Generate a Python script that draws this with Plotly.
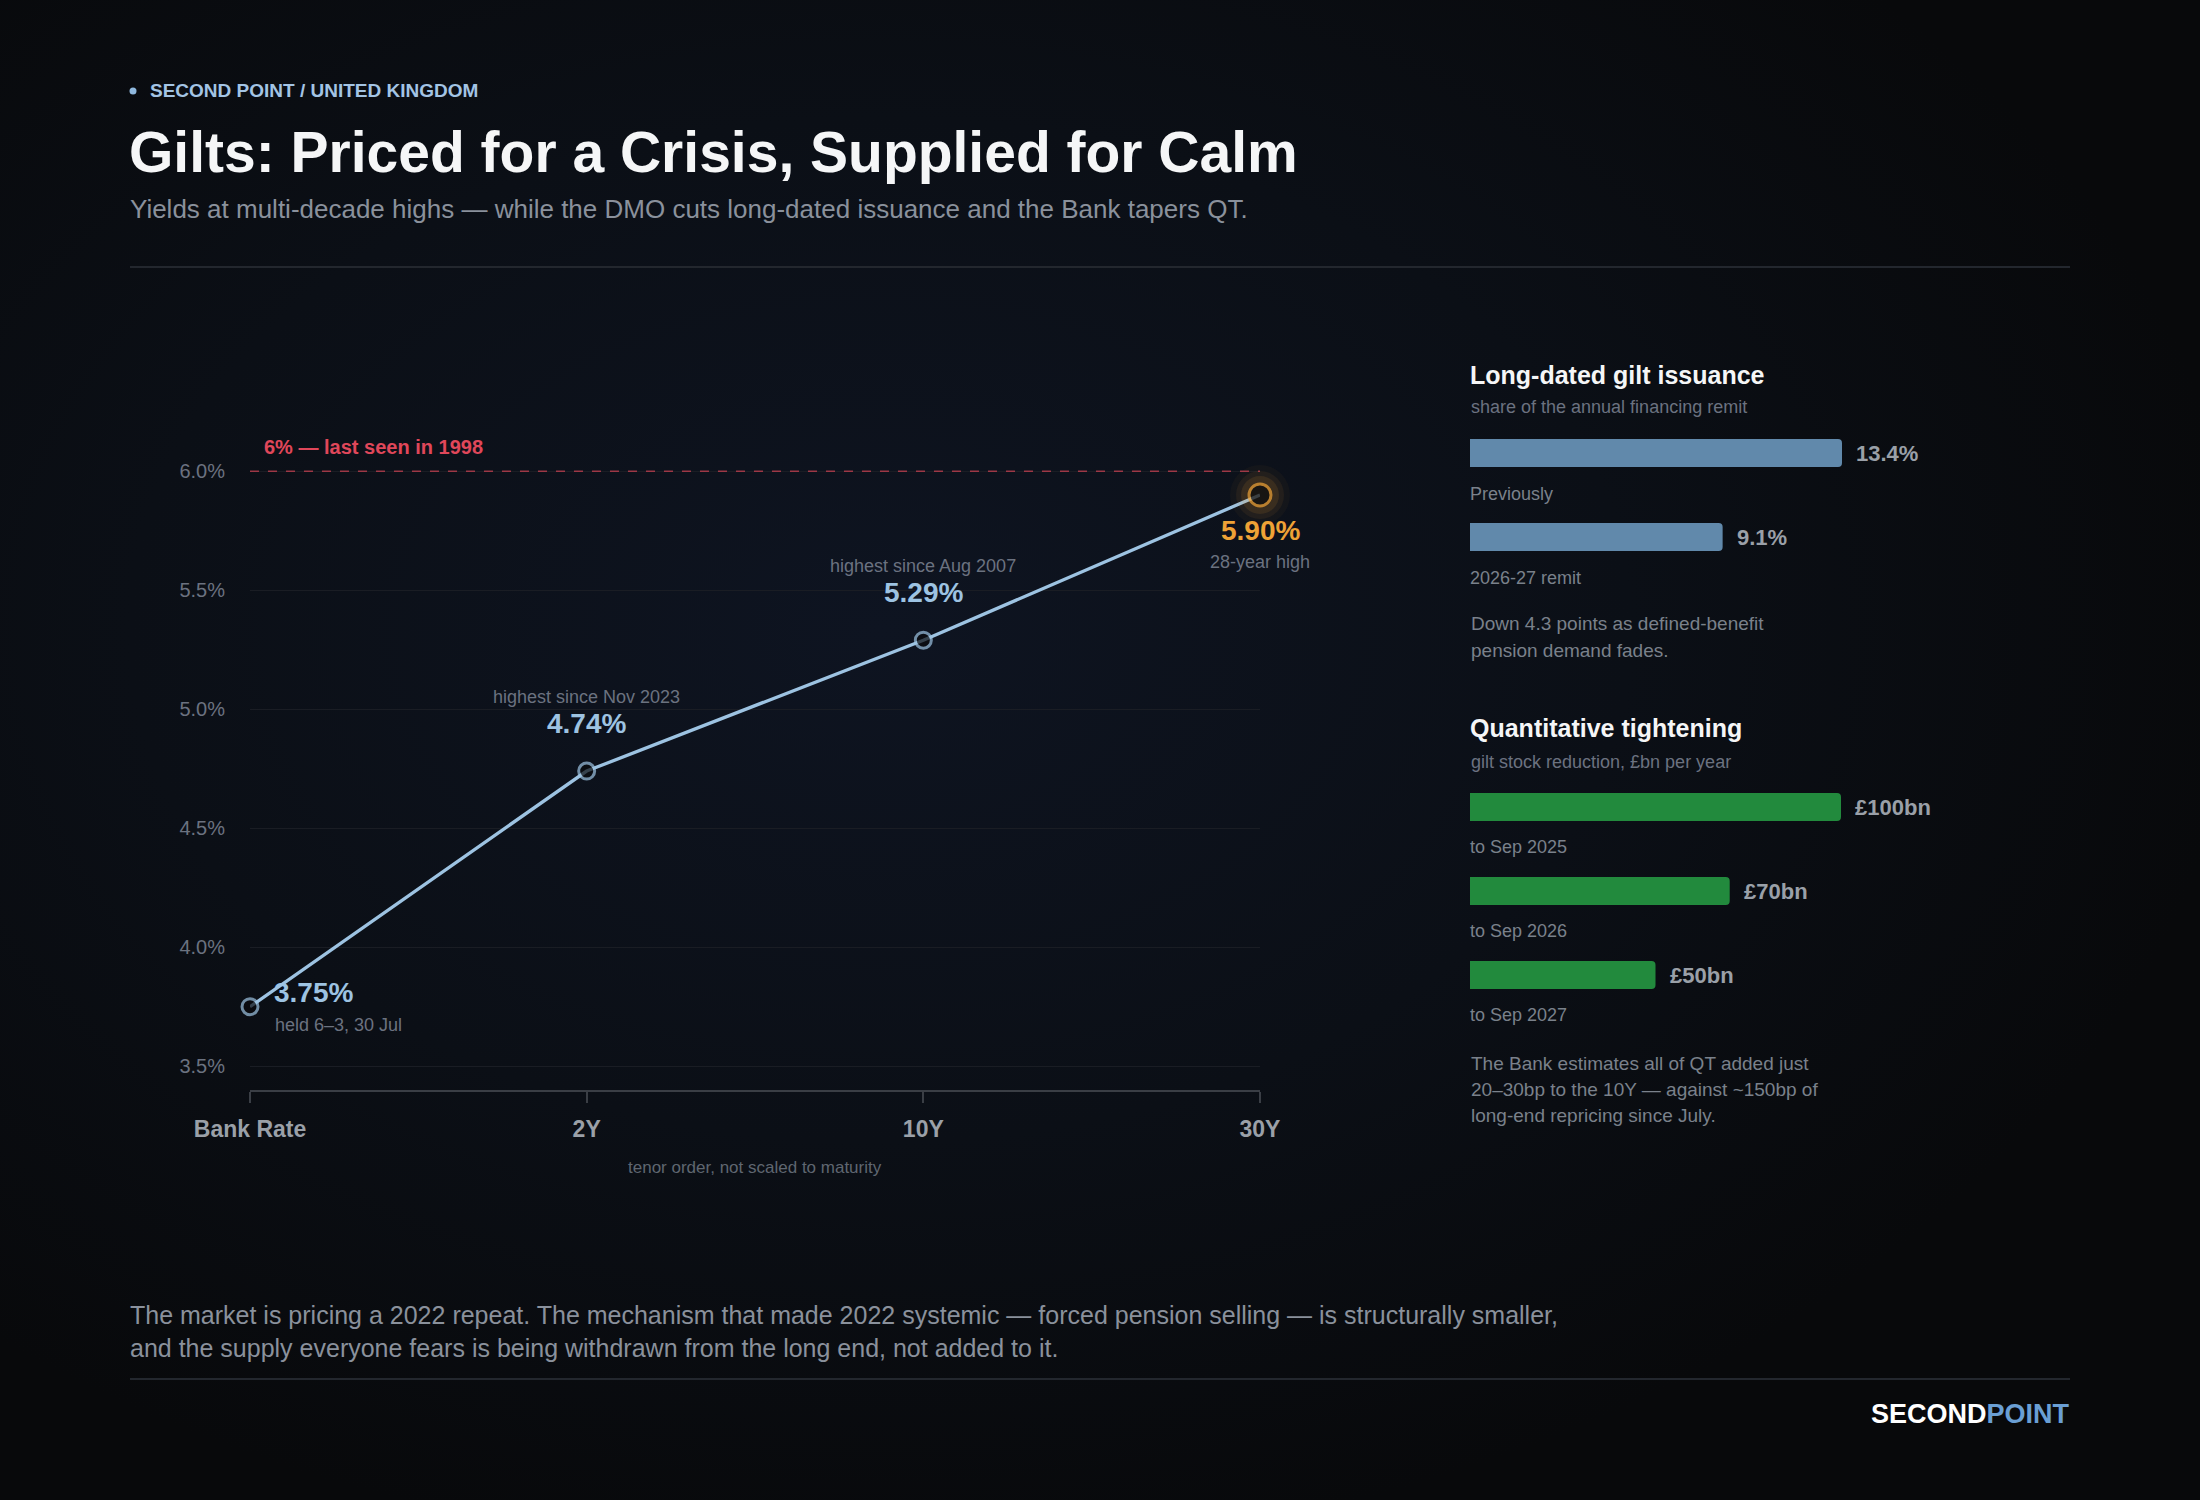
import base64
import plotly.graph_objects as go

# yield curve
tenors = ["Bank Rate", "2Y", "10Y", "30Y"]
yields = [3.75, 4.74, 5.29, 5.90]
yield_notes = ["held 6–3, 30 Jul", "highest since Nov 2023", "highest since Aug 2007", "28-year high"]
threshold = 6.0
threshold_label = "6% — last seen in 1998"
y_ticks = [3.5, 4.0, 4.5, 5.0, 5.5, 6.0]

# long-dated issuance, share of remit (%)
issuance_labels = ["Previously", "2026-27 remit"]
issuance_share = [13.4, 9.1]

# QT, gilt stock reduction (£bn per year)
qt_labels = ["to Sep 2025", "to Sep 2026", "to Sep 2027"]
qt_bn = [100, 70, 50]

W, H = 2200, 1500
FONT = "Liberation Sans, Arial, Helvetica, sans-serif"
BLUE = "#9dc3e2"
ORANGE = "#eea236"
GREY = "#8a919c"
DIM = "#6b7280"


def px(x):
    return x / W


def py(y):
    return 1 - y / H


fig = go.Figure()

fig.add_trace(go.Scatter(
    x=tenors, y=yields, mode="lines",
    line=dict(color=BLUE, width=3.3),
    cliponaxis=False, showlegend=False, hoverinfo="skip"))

# soft glow behind the 30Y point
for size, alpha in [(60, 0.04), (48, 0.07), (38, 0.11)]:
    fig.add_trace(go.Scatter(
        x=[tenors[-1]], y=[yields[-1]], mode="markers",
        marker=dict(size=size, color=f"rgba(238,162,54,{alpha})", line=dict(width=0)),
        cliponaxis=False, hoverinfo="skip", showlegend=False))

fig.add_trace(go.Scatter(
    x=tenors, y=yields, mode="markers",
    marker=dict(size=[16] * (len(yields) - 1) + [22], color="#0a0b0e",
                line=dict(color=[BLUE] * (len(yields) - 1) + [ORANGE], width=3)),
    cliponaxis=False, showlegend=False, hoverinfo="skip"))

fig.add_trace(go.Bar(
    x=issuance_share, y=list(range(len(issuance_share))), orientation="h",
    xaxis="x2", yaxis="y2", width=0.333,
    marker=dict(color="#6189ab", cornerradius=4, line=dict(width=0)),
    hoverinfo="skip", showlegend=False))

fig.add_trace(go.Bar(
    x=qt_bn, y=list(range(len(qt_bn))), orientation="h",
    xaxis="x3", yaxis="y3", width=0.333,
    marker=dict(color="#228a3d", cornerradius=4, line=dict(width=0)),
    hoverinfo="skip", showlegend=False))

ann = []


def text(x, y, s, size, color, bold=False, xanchor="left", **kw):
    ann.append(dict(x=x, y=y, text=f"<b>{s}</b>" if bold else s, showarrow=False,
                    xanchor=xanchor, yanchor=kw.pop("yanchor", "middle"),
                    font=dict(size=size, color=color, family=FONT), **kw))


# header
text(px(148), py(91), "SECOND POINT / UNITED KINGDOM", 19, "#a3c4e4", bold=True,
     xref="paper", yref="paper")
text(px(127), py(152), "Gilts: Priced for a Crisis, Supplied for Calm", 57, "#f5f6f7", bold=True,
     xref="paper", yref="paper")
text(px(128), py(209), "Yields at multi-decade highs — while the DMO cuts long-dated issuance and the Bank tapers QT.",
     26, GREY, xref="paper", yref="paper")

# point labels
for i, (t, v, note) in enumerate(zip(tenors, yields, yield_notes)):
    if i == 0:
        text(t, v, f"{v:.2f}%", 28, BLUE, bold=True, xref="x", yref="y", xshift=22, yshift=14)
        text(t, v, note, 18, DIM, xref="x", yref="y", xshift=23, yshift=-18)
    elif i == len(tenors) - 1:
        text(t, v, f"{v:.2f}%", 28, ORANGE, bold=True, xanchor="center", xref="x", yref="y", yshift=-35)
        text(t, v, note, 18, DIM, xanchor="center", xref="x", yref="y", yshift=-67)
    else:
        text(t, v, f"{v:.2f}%", 28, BLUE, bold=True, xanchor="center", xref="x", yref="y", yshift=48)
        text(t, v, note, 18, DIM, xanchor="center", xref="x", yref="y", yshift=74)

text(0, threshold, threshold_label, 20, "#e0475a", bold=True, xref="x domain", yref="y",
     xshift=12, yshift=24)
text(px(755), py(1167), "tenor order, not scaled to maturity", 17, "#5f6670", xanchor="center",
     xref="paper", yref="paper")

# right panel: issuance
text(px(1468), py(375), "Long-dated gilt issuance", 25, "#f5f6f7", bold=True, xref="paper", yref="paper")
text(px(1469), py(407), "share of the annual financing remit", 18, DIM, xref="paper", yref="paper")
for i, (lab, v) in enumerate(zip(issuance_labels, issuance_share)):
    text(v, i, f"{v:.1f}%", 22, "#9aa0a8", bold=True, xref="x2", yref="y2", xshift=12)
    text(0, i, lab, 18, "#7a818b", xref="x2", yref="y2", yshift=-41, xshift=-2)
for j, line in enumerate(["Down 4.3 points as defined-benefit", "pension demand fades."]):
    text(px(1469), py(624 + 27 * j), line, 19, "#7a818b", xref="paper", yref="paper")

# right panel: QT
text(px(1468), py(728), "Quantitative tightening", 25, "#f5f6f7", bold=True, xref="paper", yref="paper")
text(px(1469), py(762), "gilt stock reduction, £bn per year", 18, DIM, xref="paper", yref="paper")
for i, (lab, v) in enumerate(zip(qt_labels, qt_bn)):
    text(v, i, f"£{v}bn", 22, "#9aa0a8", bold=True, xref="x3", yref="y3", xshift=12)
    text(0, i, lab, 18, "#7a818b", xref="x3", yref="y3", yshift=-40, xshift=-2)
qt_note = ["The Bank estimates all of QT added just",
           "20–30bp to the 10Y — against ~150bp of",
           "long-end repricing since July."]
for j, line in enumerate(qt_note):
    text(px(1469), py(1063 + 26 * j), line, 19, "#7a818b", xref="paper", yref="paper")

# footer
text(px(128), py(1315), "The market is pricing a 2022 repeat. The mechanism that made 2022 systemic — forced pension selling — is structurally smaller,",
     25, GREY, xref="paper", yref="paper")
text(px(128), py(1348), "and the supply everyone fears is being withdrawn from the long end, not added to it.",
     25, GREY, xref="paper", yref="paper")
text(px(2072), py(1414), "<b>SECOND</b><b><span style='color:#6a9fd4'>POINT</span></b>", 27, "#ffffff",
     xanchor="right", xref="paper", yref="paper")

shapes = [
    dict(type="line", xref="x domain", yref="y", x0=0, x1=1, y0=threshold, y1=threshold,
         line=dict(color="rgba(214,69,86,0.7)", width=1.5, dash="dash"), layer="above"),
    dict(type="line", xref="paper", yref="paper", x0=px(130), x1=px(2070), y0=py(267), y1=py(267),
         line=dict(color="#23272e", width=2)),
    dict(type="line", xref="paper", yref="paper", x0=px(130), x1=px(2070), y0=py(1379), y1=py(1379),
         line=dict(color="#23272e", width=2)),
    dict(type="circle", xref="paper", yref="paper", x0=px(129.5), x1=px(136.5), y0=py(87.5), y1=py(94.5),
         fillcolor="#8fb8de", line=dict(width=0)),
]

svg = ('<svg xmlns="http://www.w3.org/2000/svg" width="2200" height="1500">'
       '<defs><radialGradient id="g" cx="0.40" cy="0.42" r="0.62">'
       '<stop offset="0" stop-color="#0e1421"/><stop offset="0.55" stop-color="#0b0f16"/>'
       '<stop offset="1" stop-color="#08090b"/></radialGradient></defs>'
       '<rect width="2200" height="1500" fill="url(#g)"/></svg>')
bg = "data:image/svg+xml;base64," + base64.b64encode(svg.encode()).decode()

y_lo, y_hi = 3.4, 6.2
plot_bottom, px_per_unit = 1090, 238

fig.update_layout(
    width=W, height=H, margin=dict(l=0, r=0, t=0, b=0, autoexpand=False),
    paper_bgcolor="#090a0d", plot_bgcolor="rgba(0,0,0,0)",
    font=dict(family=FONT),
    images=[dict(source=bg, xref="paper", yref="paper", x=0, y=1, sizex=1, sizey=1,
                 sizing="stretch", layer="below", xanchor="left", yanchor="top")],
    xaxis=dict(domain=[px(250), px(1260)], type="category", categoryorder="array",
               categoryarray=tenors, range=[0, len(tenors) - 1], automargin=False,
               showgrid=False, zeroline=False, showline=True, linecolor="#3a3e45", linewidth=2,
               ticks="outside", ticklen=11, tickwidth=1.5, tickcolor="#3a3e45",
               tickfont=dict(size=23, color="#9aa0a8", family=FONT, weight="bold"),
               ticklabelstandoff=6, fixedrange=True),
    yaxis=dict(domain=[py(plot_bottom), py(plot_bottom - (y_hi - y_lo) * px_per_unit)],
               range=[y_lo, y_hi], tickmode="array", tickvals=y_ticks, automargin=False,
               ticktext=[f"{v:.1f}%" for v in y_ticks],
               showgrid=True, gridcolor="#1a1d24", gridwidth=1, zeroline=False, showline=False,
               ticks="", tickfont=dict(size=20, color=DIM, family=FONT),
               ticklabelstandoff=24, fixedrange=True),
    xaxis2=dict(domain=[px(1470), px(1842)], range=[0, max(issuance_share)], anchor="y2",
                visible=False, fixedrange=True, automargin=False),
    yaxis2=dict(domain=[py(579), py(411)], range=[len(issuance_share) - 0.5, -0.5], anchor="x2",
                visible=False, fixedrange=True, automargin=False),
    xaxis3=dict(domain=[px(1470), px(1841)], range=[0, max(qt_bn)], anchor="y3",
                visible=False, fixedrange=True, automargin=False),
    yaxis3=dict(domain=[py(1017), py(765)], range=[len(qt_bn) - 0.5, -0.5], anchor="x3",
                visible=False, fixedrange=True, automargin=False),
    annotations=ann, shapes=shapes, showlegend=False,
)

fig.write_html("out.html", config={"displayModeBar": False},
               post_script="document.body.style.margin='0';document.body.style.overflow='hidden';")
